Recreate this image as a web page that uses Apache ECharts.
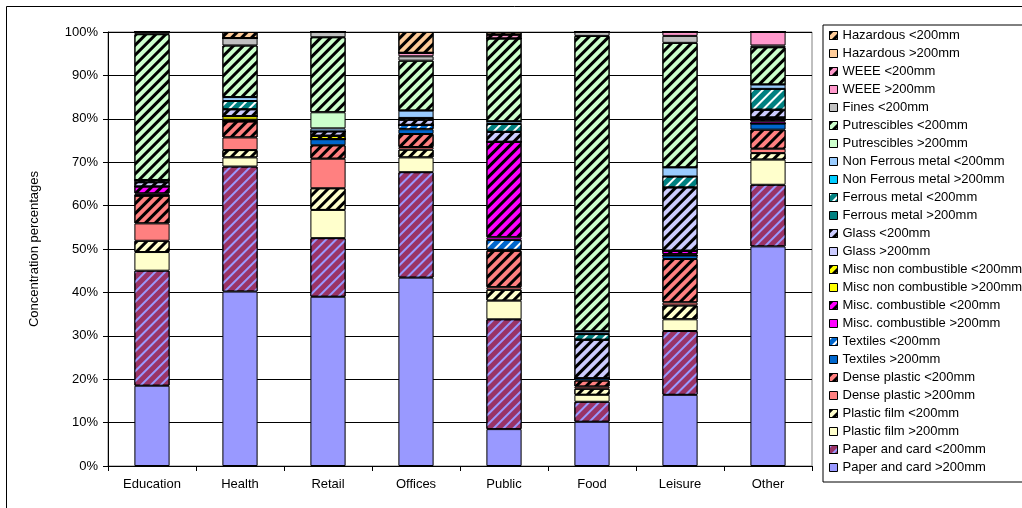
<!DOCTYPE html>
<html>
<head>
<meta charset="utf-8">
<script src="https://cdn.jsdelivr.net/npm/echarts@6/dist/echarts.min.js"></script>
<style>html,body{margin:0;padding:0;background:#fff}#c{width:1022px;height:508px}</style>
</head>
<body>
<div id="c"></div>
<script>
const categories = ['Education','Health','Retail','Offices','Public','Food','Leisure','Other'];
const yTicks = [0,10,20,30,40,50,60,70,80,90,100];

const paperGt   = [18.5, 40.2, 39.0, 43.4, 8.5, 10.2, 16.4, 50.6];
const paperLt   = [26.5, 28.8, 13.5, 24.3, 25.3, 4.6, 14.7, 14.2];
const filmGt    = [4.3, 2.1, 6.5, 3.4, 4.3, 1.6, 2.7, 5.8];
const filmLt    = [2.6, 1.7, 5.0, 1.8, 2.5, 1.4, 3.2, 1.5];
const denseGt   = [4.0, 2.9, 6.8, 0.6, 0.6, 0.5, 0.7, 1.0];
const denseLt   = [6.4, 3.7, 3.1, 3.0, 8.4, 1.4, 10.0, 4.4];
const textGt    = [0, 0, 1.4, 1.1, 0.2, 0.5, 0.8, 1.4];
const textLt    = [0.2, 0.4, 0, 1.0, 2.3, 0, 0, 0];
const combGt    = [0.3, 0, 0, 0, 0.6, 0, 0.3, 0.5];
const combLt    = [1.6, 0, 0, 0, 22.0, 0, 0.8, 0.5];
const nonCombGt = [0, 0.8, 0, 0, 0, 0, 0, 0];
const nonCombLt = [0, 0, 0.8, 0, 0, 0, 0, 0.4];
const glassGt   = [0, 0, 0, 0, 0, 0, 0, 0];
const glassLt   = [1.0, 1.6, 1.0, 1.2, 2.3, 8.9, 14.6, 1.8];
const ferGt     = [0, 0, 0, 0, 0, 0, 0, 0];
const ferLt     = [0.5, 1.9, 0, 0.4, 1.8, 1.3, 2.5, 4.8];
const nonFerGt  = [0, 0, 0, 0, 0, 0, 0, 0];
const nonFerLt  = [0, 0.9, 0.7, 1.7, 0.6, 0.6, 2.1, 1.0];
const putGt     = [0, 0, 3.7, 0, 0, 0, 0, 0];
const putLt     = [33.6, 11.9, 17.3, 11.5, 19.1, 68.1, 28.7, 8.6];
const fines     = [0.5, 1.7, 1.2, 1.0, 0, 0.9, 1.6, 0.4];
const weeeGt    = [0, 0, 0, 0.8, 0, 0, 0.9, 3.1];
const weeeLt    = [0, 0, 0, 0, 0.9, 0, 0, 0];
const hazGt     = [0, 0, 0, 0, 0, 0, 0, 0];
const hazLt     = [0, 1.4, 0, 4.8, 0.6, 0, 0, 0];

const seriesNames = ['Paper and card >200mm','Paper and card <200mm','Plastic film >200mm','Plastic film <200mm',
  'Dense plastic >200mm','Dense plastic <200mm','Textiles >200mm','Textiles <200mm',
  'Misc. combustible >200mm','Misc. combustible <200mm','Misc non combustible >200mm','Misc non combustible <200mm',
  'Glass >200mm','Glass <200mm','Ferrous metal >200mm','Ferrous metal <200mm',
  'Non Ferrous metal >200mm','Non Ferrous metal <200mm','Putrescibles >200mm','Putrescibles <200mm',
  'Fines <200mm','WEEE >200mm','WEEE <200mm','Hazardous >200mm','Hazardous <200mm'];
const seriesData = [paperGt,paperLt,filmGt,filmLt,denseGt,denseLt,textGt,textLt,combGt,combLt,nonCombGt,nonCombLt,
  glassGt,glassLt,ferGt,ferLt,nonFerGt,nonFerLt,putGt,putLt,fines,weeeGt,weeeLt,hazGt,hazLt];

function hatch(color, dash) {
  return {symbol:'rect', symbolSize:1, dashArrayX:[1,0], dashArrayY:dash || [3,4], rotation:-Math.PI/4, color:color};
}
const styles = [
  {c:'#9999FF'},
  {c:'#993366', d:hatch('#9999FF',[2,5])},
  {c:'#FFFFCC'},
  {c:'#FFFFCC', d:hatch('#000')},
  {c:'#FF8080'},
  {c:'#FF8080', d:hatch('#000')},
  {c:'#0066CC'},
  {c:'#0066CC', d:hatch('#FFFFFF',[2,5])},
  {c:'#FF00FF'},
  {c:'#FF00FF', d:hatch('#000')},
  {c:'#FFFF00'},
  {c:'#FFFF00', d:hatch('#000')},
  {c:'#CCCCFF'},
  {c:'#CCCCFF', d:hatch('#000')},
  {c:'#008080'},
  {c:'#008080', d:hatch('#FFFFFF',[2,5])},
  {c:'#00CCFF'},
  {c:'#99CCFF'},
  {c:'#CCFFCC'},
  {c:'#CCFFCC', d:hatch('#000')},
  {c:'#C0C0C0'},
  {c:'#FF99CC'},
  {c:'#FF99CC', d:hatch('#000')},
  {c:'#FFCC99'},
  {c:'#FFCC99', d:hatch('#000')}
];

const FONT = 'Liberation Sans, Arial, sans-serif';
const series = seriesNames.map((n,i) => ({
  name:n, type:'bar', stack:'all', barWidth:'40%',
  data:seriesData[i],
  itemStyle:Object.assign({color:styles[i].c, borderColor:'#000', borderWidth:1}, styles[i].d ? {decal:styles[i].d} : {}),
  emphasis:{disabled:true}
}));

const chart = echarts.init(document.getElementById('c'), null, {renderer:'canvas'});
chart.setOption({
  animation:false,
  backgroundColor:'#fff',
  textStyle:{fontFamily:FONT},
  graphic:[{type:'rect', shape:{x:6.5, y:6.5, width:1100, height:1100}, style:{fill:null, stroke:'#000', lineWidth:1}, z:-1}],
  grid:{left:108, right:210, top:32, bottom:42, show:true, borderColor:'#808080', borderWidth:1},
  legend:{
    orient:'vertical', left:823, top:25, padding:[4,10,8,6], itemGap:5, itemWidth:8, itemHeight:8,
    icon:'rect', borderColor:'#000', borderWidth:1,
    itemStyle:{borderColor:'#000', borderWidth:1},
    textStyle:{fontSize:13, color:'#000', fontFamily:FONT},
    data:seriesNames.slice().reverse()
  },
  xAxis:{
    type:'category', data:categories,
    axisLine:{lineStyle:{color:'#000'}},
    axisTick:{show:true, alignWithLabel:false, length:5, lineStyle:{color:'#000'}},
    axisLabel:{fontSize:13, color:'#000', margin:12, fontFamily:FONT}
  },
  yAxis:{
    type:'value', min:0, max:100, interval:10,
    name:'Concentration percentages', nameLocation:'middle', nameRotate:90, nameGap:67,
    nameTextStyle:{fontSize:13, color:'#000', fontFamily:FONT},
    axisLine:{show:true, lineStyle:{color:'#000'}},
    axisTick:{show:true, length:5, lineStyle:{color:'#000'}},
    axisLabel:{fontSize:13, color:'#000', margin:10, formatter:v => yTicks.indexOf(v) >= 0 ? v + '%' : '', fontFamily:FONT},
    splitLine:{show:true, lineStyle:{color:'#000', width:1}}
  },
  series:series
});
</script>
</body>
</html>
